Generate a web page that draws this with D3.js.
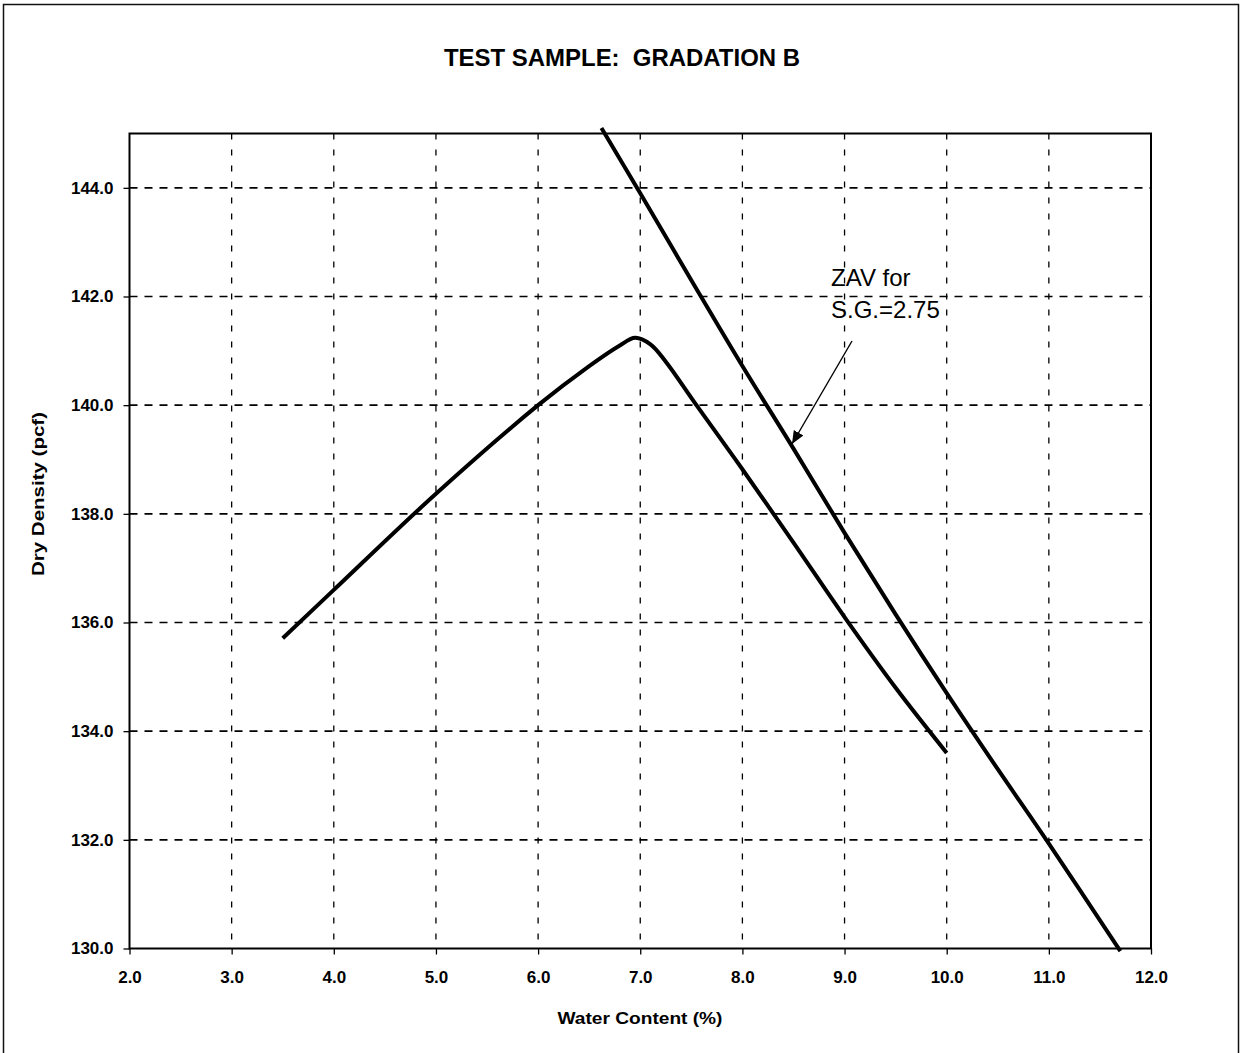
<!DOCTYPE html>
<html>
<head>
<meta charset="utf-8">
<script src="https://cdn.jsdelivr.net/npm/d3@7"></script>
<style>
  html, body { margin: 0; padding: 0; background: #fff; }
  svg { display: block; font-family: "Liberation Sans", Arial, sans-serif; }
</style>
</head>
<body>
<svg id="chart" width="1243" height="1053"></svg>
<script>
// Compaction test results (water content %, dry density pcf)
const waterContent = [3.5, 4.0, 5.0, 6.0, 6.5, 6.8, 6.95, 7.1, 7.25, 7.55, 8.0, 8.5, 9.0, 9.5, 10.0];
const dryDensity   = [135.71, 136.6, 138.37, 140.0, 140.72, 141.1, 141.24, 141.12, 140.8, 140.0, 138.82, 137.47, 136.1, 134.8, 133.6];

// Zero-air-voids curve for S.G. = 2.75
const zavWater   = [6.62, 7.0, 7.5, 8.0, 8.5, 9.0, 9.5, 10.0, 10.5, 11.0, 11.7];
const zavDensity = [145.1, 143.9, 142.3, 140.72, 139.2, 137.65, 136.15, 134.7, 133.3, 131.93, 129.95];

const xTicks = [2, 3, 4, 5, 6, 7, 8, 9, 10, 11, 12];
const yTicks = [130, 132, 134, 136, 138, 140, 142, 144];

const titleText = "TEST SAMPLE:  GRADATION B";
const xTitle = "Water Content (%)";
const yTitle = "Dry Density (pcf)";
const noteLines = ["ZAV for", "S.G.=2.75"];

const svg = d3.select("#chart");
const plot = { left: 129.5, right: 1151, top: 133.5, bottom: 948.5 };

const x = d3.scaleLinear().domain([2, 12]).range([plot.left, plot.right]);
const y = d3.scaleLinear().domain([130, 145]).range([plot.bottom, plot.top]);

// Outer frame
svg.append("rect")
  .attr("x", 3.5).attr("y", 4.5)
  .attr("width", 1235).attr("height", 1060)
  .attr("fill", "none").attr("stroke", "#111").attr("stroke-width", 1.5);

// Title
svg.append("text")
  .attr("x", 622).attr("y", 66)
  .attr("text-anchor", "middle")
  .attr("font-size", 23).attr("font-weight", "bold")
  .style("white-space", "pre")
  .attr("textLength", 356).attr("lengthAdjust", "spacingAndGlyphs")
  .text(titleText);

// Grid lines
const grid = svg.append("g");
grid.selectAll("line.h")
  .data(yTicks.filter(v => v > 130))
  .join("line")
  .attr("class", "h")
  .attr("x1", plot.left).attr("x2", plot.right)
  .attr("y1", d => y(d)).attr("y2", d => y(d))
  .attr("stroke", "#000").attr("stroke-width", 1.6)
  .attr("stroke-dasharray", "8,7");
grid.selectAll("line.v")
  .data(xTicks.filter(v => v > 2 && v < 12))
  .join("line")
  .attr("class", "v")
  .attr("x1", d => x(d)).attr("x2", d => x(d))
  .attr("y1", plot.top).attr("y2", plot.bottom)
  .attr("stroke", "#000").attr("stroke-width", 1.3)
  .attr("stroke-dasharray", "6,10");

// Axes
const fmt = d3.format(".1f");
const yAxis = svg.append("g")
  .attr("transform", `translate(${plot.left},0)`)
  .call(d3.axisLeft(y).tickValues(yTicks).tickFormat(fmt).tickSize(6).tickPadding(10));
const xAxis = svg.append("g")
  .attr("transform", `translate(0,${plot.bottom})`)
  .call(d3.axisBottom(x).tickValues(xTicks).tickFormat(fmt).tickSize(6).tickPadding(16));
[xAxis, yAxis].forEach(g => {
  g.select(".domain").remove();
  g.selectAll(".tick line").attr("stroke", "#000").attr("stroke-width", 1.3);
  g.selectAll(".tick text")
    .attr("fill", "#000")
    .attr("font-size", 17).attr("font-weight", "bold")
    .attr("font-family", "'Liberation Sans', Arial, sans-serif");
});

// Plot frame
svg.append("rect")
  .attr("x", plot.left).attr("y", plot.top)
  .attr("width", plot.right - plot.left).attr("height", plot.bottom - plot.top)
  .attr("fill", "none").attr("stroke", "#000").attr("stroke-width", 2);

// Axis titles
svg.append("text")
  .attr("x", 640).attr("y", 1024)
  .attr("text-anchor", "middle")
  .attr("font-size", 17).attr("font-weight", "bold")
  .attr("textLength", 165).attr("lengthAdjust", "spacingAndGlyphs")
  .text(xTitle);
svg.append("text")
  .attr("transform", "translate(44,494) rotate(-90)")
  .attr("text-anchor", "middle")
  .attr("font-size", 17).attr("font-weight", "bold")
  .attr("textLength", 164).attr("lengthAdjust", "spacingAndGlyphs")
  .text(yTitle);

// Curves
const line = d3.line().curve(d3.curveCatmullRom.alpha(0.5)).x(d => x(d[0])).y(d => y(d[1]));
svg.append("path")
  .datum(d3.zip(waterContent, dryDensity))
  .attr("d", line)
  .attr("fill", "none").attr("stroke", "#000").attr("stroke-width", 4)
  .attr("stroke-linejoin", "round").attr("stroke-linecap", "butt");
svg.append("path")
  .datum(d3.zip(zavWater, zavDensity))
  .attr("d", line)
  .attr("fill", "none").attr("stroke", "#000").attr("stroke-width", 4)
  .attr("stroke-linejoin", "round").attr("stroke-linecap", "butt");

// Callout for the ZAV curve
const note = svg.append("text")
  .attr("font-size", 24).attr("fill", "#000");
note.selectAll("tspan")
  .data(noteLines)
  .join("tspan")
  .attr("x", 831)
  .attr("y", (d, i) => 286 + i * 32)
  .text(d => d);

svg.append("defs").append("marker")
  .attr("id", "arrowhead")
  .attr("viewBox", "0 0 13 11")
  .attr("refX", 13).attr("refY", 5.5)
  .attr("markerWidth", 13).attr("markerHeight", 11)
  .attr("markerUnits", "userSpaceOnUse")
  .attr("orient", "auto")
  .append("path")
  .attr("d", "M0,0 L13,5.5 L0,11 Z")
  .attr("fill", "#000");

svg.append("line")
  .attr("x1", 852).attr("y1", 341)
  .attr("x2", 792).attr("y2", 444)
  .attr("stroke", "#000").attr("stroke-width", 1.4)
  .attr("marker-end", "url(#arrowhead)");
</script>
</body>
</html>
